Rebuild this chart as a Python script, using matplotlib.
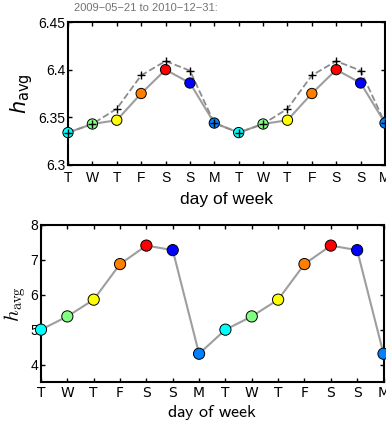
import matplotlib
matplotlib.use("Agg")
import matplotlib.pyplot as plt

days = ['T', 'W', 'T', 'F', 'S', 'S', 'M', 'T', 'W', 'T', 'F', 'S', 'S', 'M']
top_solid = [6.334, 6.343, 6.347, 6.375, 6.400, 6.386, 6.344,
             6.334, 6.343, 6.347, 6.375, 6.400, 6.386, 6.344]
top_dashed = [6.334, 6.343, 6.359, 6.394, 6.409, 6.399, 6.344,
              6.334, 6.343, 6.359, 6.394, 6.409, 6.399, 6.344]
bottom_vals = [5.00, 5.38, 5.86, 6.88, 7.41, 7.28, 4.31,
               5.00, 5.38, 5.86, 6.88, 7.41, 7.28, 4.31]
day_colors = {'Mo': (0.0, 0.5, 1.0), 'Tu': (0.0, 1.0, 1.0), 'We': (0.5, 1.0, 0.5),
              'Th': (1.0, 1.0, 0.0), 'Fr': (1.0, 0.5, 0.0), 'Sa': (1.0, 0.0, 0.0),
              'Su': (0.0, 0.0, 1.0)}
day_keys = ['Tu', 'We', 'Th', 'Fr', 'Sa', 'Su', 'Mo',
            'Tu', 'We', 'Th', 'Fr', 'Sa', 'Su', 'Mo']
title_text = '2009\u221205\u221221 to 2010\u221212\u221231:'

plt.rcParams['font.family'] = ['Liberation Sans', 'DejaVu Sans']
plt.rcParams['mathtext.fontset'] = 'dejavusans'

W, H = 386, 428
fig = plt.figure(figsize=(W / 100, H / 100), dpi=100)

x = list(range(len(days)))
cols = [day_colors[k] for k in day_keys]


def style(ax):
    for s in ax.spines.values():
        s.set_linewidth(1.5)
    ax.tick_params(direction='in', length=3, width=1, top=True, right=True,
                   labelsize=10, pad=2)


# top axes
ax1 = fig.add_axes([68 / W, 1 - 165 / H, (385 - 68) / W, 143 / H])
ax1.plot(x, top_solid, '-', color='0.62', lw=1.5, zorder=2)
ax1.plot(x, top_dashed, '--', color='0.55', lw=1.3, zorder=2)
ax1.scatter(x, top_solid, s=55, c=cols, edgecolors='black', linewidths=0.7,
            zorder=3, clip_on=False)
ax1.plot(x, top_dashed, '+', color='black', ms=6, mew=1, zorder=4, clip_on=False)
ax1.set_xlim(0, 13)
ax1.set_ylim(6.3, 6.45)
ax1.set_yticks([6.3, 6.35, 6.4, 6.45])
ax1.set_yticklabels(['6.3', '6.35', '6.4', '6.45'])
ax1.set_xticks(x)
ax1.set_xticklabels(days)
style(ax1)
ax1.tick_params(axis='x', pad=4)
ax1.set_xlabel('day of week', fontsize=12.5, labelpad=5)
ax1.set_ylabel(r'$h_{\mathrm{avg}}$', fontsize=15, labelpad=2)
fig.text(74 / W, 1 - 8 / H, title_text, fontsize=8, color='0.45',
         ha='left', va='center')

# bottom axes
ax2 = fig.add_axes([41 / W, 1 - 382 / H, (383.5 - 41) / W, 157 / H])
ax2.plot(x, bottom_vals, '-', color='0.62', lw=1.5, zorder=2)
ax2.scatter(x, bottom_vals, s=65, c=cols, edgecolors='black', linewidths=0.7,
            zorder=3, clip_on=False)
ax2.set_xlim(0, 13)
ax2.set_ylim(3.5, 8)
ax2.set_yticks([4, 5, 6, 7, 8])
ax2.set_xticks(x)
ax2.set_xticklabels(days)
style(ax2)
for lab in ax2.get_xticklabels():
    lab.set_fontfamily(['DejaVu Sans'])
ax2.tick_params(axis='x', pad=3)
ax2.set_xlabel(r'$\mathsf{day\ of\ week}$', fontsize=13, labelpad=2,
               math_fontfamily='cm')
ax2.set_ylabel(r'$h_{\mathrm{avg}}$', fontsize=15, labelpad=2,
               math_fontfamily='cm')

fig.savefig('out.png', dpi=100)
